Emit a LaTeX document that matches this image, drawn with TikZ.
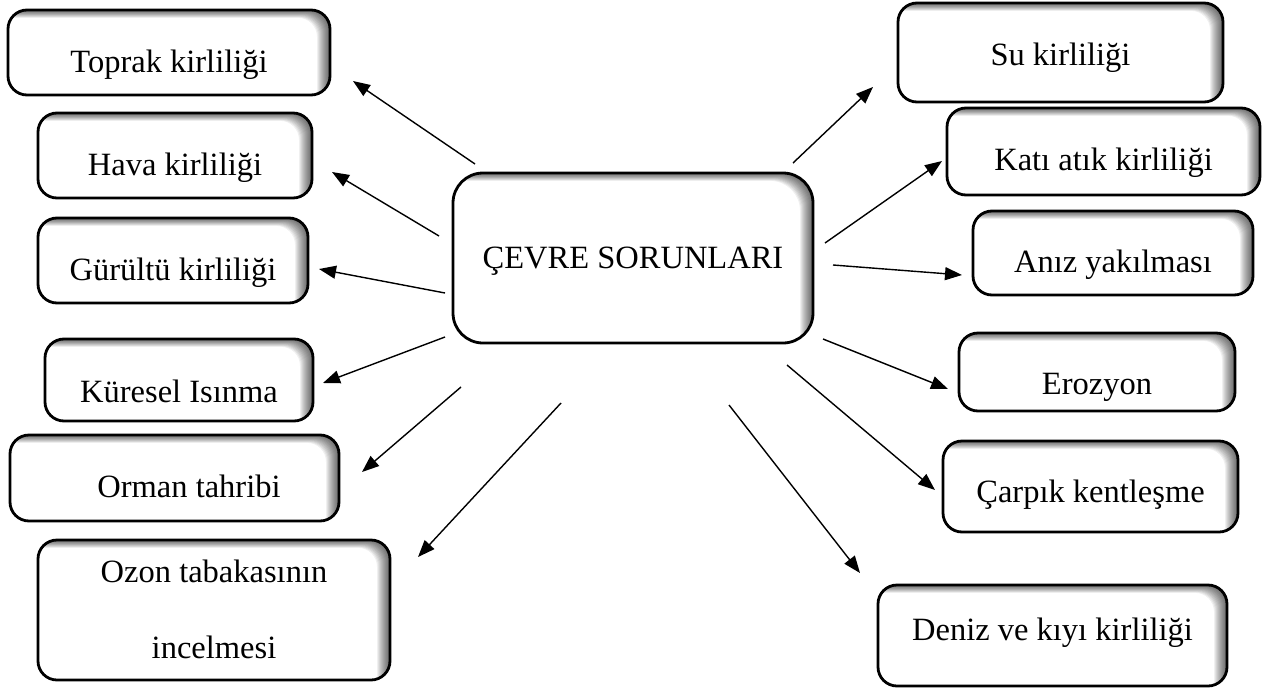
\documentclass[tikz,border=0pt]{standalone}
\usepackage{fontspec}
\setmainfont{Liberation Serif}
\usetikzlibrary{arrows.meta}
\tikzset{
  shbox/.style={draw, line width=2.8pt, rounded corners=#1, fill=white, inner sep=0pt,
    path picture={
      \foreach \k in {1,...,13}{
        \fill[black, opacity=0.06, even odd rule]
          ([shift={(-40pt,-40pt)}]path picture bounding box.south west) rectangle
          ([shift={(40pt,40pt)}]path picture bounding box.north east)
          [rounded corners=#1]
          ([shift={(-\k*1.0pt-40pt,-\k*0.6pt-40pt)}]path picture bounding box.south west) rectangle
          ([shift={(-\k*1.0pt,-\k*0.6pt)}]path picture bounding box.north east);
      }
    }},
  shbox/.default=19pt,
  txt/.style={anchor=base, inner sep=0pt, font=\fontsize{32.5}{38}\selectfont},
  arr/.style={line width=1.4pt, -{Triangle[length=17pt,width=13pt]}}
}
\begin{document}
\begin{tikzpicture}[x=1pt,y=-1pt]
\useasboundingbox (0,0) rectangle (1263,688);
% boxes
\node[shbox, minimum width=322pt, minimum height=85pt] (toprak) at (169,52.5) {};
\node[shbox, minimum width=274pt, minimum height=85pt] (hava) at (175,155.5) {};
\node[shbox, minimum width=270pt, minimum height=85pt] (gurultu) at (173,260.5) {};
\node[shbox, minimum width=268pt, minimum height=82pt] (kuresel) at (179,380) {};
\node[shbox, minimum width=329pt, minimum height=86pt] (orman) at (174.5,478) {};
\node[shbox, minimum width=352pt, minimum height=140pt] (ozon) at (214,610) {};
\node[shbox=30pt, minimum width=360pt, minimum height=170pt] (cevre) at (633,258) {};
\node[shbox, minimum width=325pt, minimum height=99pt] (su) at (1060.5,52.5) {};
\node[shbox, minimum width=313pt, minimum height=87pt] (kati) at (1103.5,151.5) {};
\node[shbox, minimum width=280pt, minimum height=84pt] (aniz) at (1113,253) {};
\node[shbox, minimum width=276pt, minimum height=78pt] (erozyon) at (1097,372) {};
\node[shbox, minimum width=295pt, minimum height=91pt] (carpik) at (1090.5,486.5) {};
\node[shbox, minimum width=349pt, minimum height=101pt] (deniz) at (1052.5,635.5) {};
% texts
\node[txt] (toprakt) at (169,72) {Toprak kirliliği};
\node[txt] (havat) at (175,175) {Hava kirliliği};
\node[txt] (gurultut) at (173,280) {Gürültü kirliliği};
\node[txt] (kureselt) at (179,402) {Küresel Isınma};
\node[txt] (ormant) at (189,497) {Orman tahribi};
\node[txt] (ozont1) at (214,582) {Ozon tabakasının};
\node[txt] (ozont2) at (214,658) {incelmesi};
\node[txt] (cevret) at (633,268) {ÇEVRE SORUNLARI};
\node[txt] (sut) at (1060.5,65) {Su kirliliği};
\node[txt] (katit) at (1103.5,170) {Katı atık kirliliği};
\node[txt] (anizt) at (1113,272) {Anız yakılması};
\node[txt] (erozyont) at (1097,394) {Erozyon};
\node[txt] (carpikt) at (1090.5,502) {Çarpık kentleşme};
\node[txt] (denizt) at (1052.5,640) {Deniz ve kıyı kirliliği};
% connector ends
\coordinate (s1) at (475,164);  \coordinate (e1) at (353,81);
\coordinate (s2) at (439,236);  \coordinate (e2) at (332,172);
\coordinate (s3) at (445,293);  \coordinate (e3) at (319,269);
\coordinate (s4) at (445,337);  \coordinate (e4) at (323,383);
\coordinate (s5) at (461,387);  \coordinate (e5) at (362,472);
\coordinate (s6) at (561,403);  \coordinate (e6) at (418,557);
\coordinate (s7) at (793,163);  \coordinate (e7) at (873,87);
\coordinate (s8) at (825,243);  \coordinate (e8) at (942,161);
\coordinate (s9) at (833,265);  \coordinate (e9) at (962,275);
\coordinate (s10) at (823,339); \coordinate (e10) at (948,389);
\coordinate (s11) at (787,365); \coordinate (e11) at (935,490);
\coordinate (s12) at (729,405); \coordinate (e12) at (860,573);
\foreach \i in {1,...,12}{\draw[arr] (s\i) -- (e\i);}
\end{tikzpicture}
\end{document}
